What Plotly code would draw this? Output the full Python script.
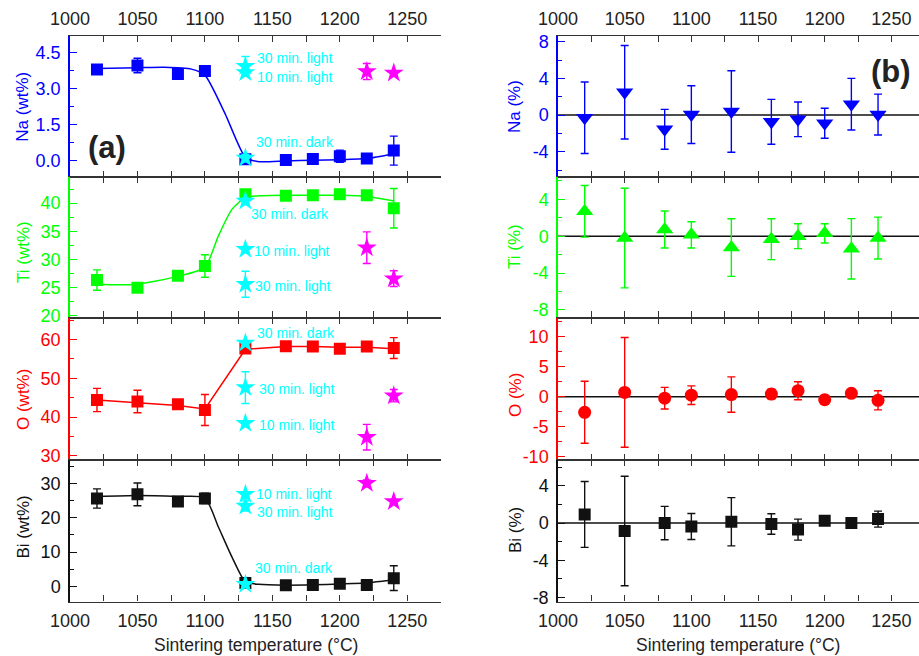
import plotly.graph_objects as go

W, H = 919, 656
FONT = "Liberation Sans, Arial, sans-serif"
INK = "#222222"
FRAME = "#333333"
BLUE, GREEN, RED, BLACK = "#0000ff", "#00ff00", "#ff0000", "#111111"
CYAN, MAGENTA = "#00ffff", "#ff00ff"

# ---------------- data ----------------
temps = [1020, 1050, 1080, 1100, 1130, 1160, 1180, 1200, 1220, 1240]

# composition (wt%) with error bars
na_wt = [3.78, 3.95, 3.60, 3.72, 0.07, 0.04, 0.08, 0.20, 0.10, 0.43]
na_wt_err = [0.10, 0.30, 0.08, 0.08, 0.08, 0.06, 0.06, 0.25, 0.06, 0.60]
ti_wt = [26.35, 25.0, 27.1, 28.85, 41.6, 41.3, 41.4, 41.6, 41.4, 39.1]
ti_wt_err = [1.8, 0.4, 0.4, 2.0, 0.4, 0.4, 0.4, 0.4, 0.4, 3.5]
o_wt = [44.4, 44.0, 43.3, 41.8, 57.7, 58.3, 58.2, 57.6, 58.2, 57.8]
o_wt_err = [3.0, 2.9, 0.8, 4.0, 0.8, 0.8, 0.8, 0.8, 0.8, 2.7]
bi_wt = [25.6, 26.8, 24.7, 25.6, 1.0, 0.3, 0.4, 0.8, 0.4, 2.4]
bi_wt_err = [2.8, 3.3, 0.8, 1.5, 0.8, 0.5, 0.5, 0.5, 0.5, 3.6]

# guide curves through the composition data
na_fit_t = [1020, 1050, 1070, 1090, 1100, 1115, 1130, 1140, 1160, 1180, 1200, 1220, 1240]
na_fit = [3.83, 3.86, 3.88, 3.80, 3.55, 1.95, 0.15, -0.03, 0.00, 0.03, 0.05, 0.10, 0.30]
ti_fit_t = [1020, 1035, 1050, 1080, 1100, 1110, 1120, 1130, 1140, 1160, 1180, 1200, 1220, 1240]
ti_fit = [25.6, 25.5, 25.6, 27.0, 28.6, 34.2, 38.9, 41.0, 41.3, 41.4, 41.4, 41.4, 41.2, 40.4]
o_fit_t = [1020, 1050, 1080, 1100, 1130, 1160, 1180, 1200, 1220, 1240]
o_fit = [44.4, 43.7, 43.0, 42.1, 57.5, 58.2, 58.2, 58.0, 58.0, 57.6]
bi_fit_t = [1020, 1050, 1080, 1100, 1110, 1120, 1130, 1140, 1160, 1180, 1200, 1220, 1240]
bi_fit = [26.2, 26.5, 26.2, 25.8, 17.3, 8.6, 1.3, 0.6, 0.35, 0.45, 0.7, 1.0, 1.9]

# 1130 °C samples under different illumination
cond_t = [1130, 1130, 1130]
cond_names = ["30 min. light", "10 min. light", "30 min. dark"]
na_cond = [3.92, 3.66, 0.12]
na_cond_err = [0.40, 0.10, 0.15]
ti_cond = [25.6, 31.8, 40.4]
ti_cond_err = [2.3, 0.5, 0.5]
o_cond = [47.6, 38.4, 59.1]
o_cond_err = [4.1, 0.6, 0.6]
bi_cond = [23.4, 26.8, 0.6]
bi_cond_err = [1.5, 0.6, 0.6]

# additional samples
extra_t = [1220, 1240]
na_extra = [3.70, 3.64]
na_extra_err = [0.33, 0.08]
ti_extra = [32.1, 26.6]
ti_extra_err = [2.8, 1.4]
o_extra = [34.8, 45.5]
o_extra_err = [3.3, 1.6]
bi_extra = [30.0, 24.7]
bi_extra_err = [1.0, 0.5]

# relative deviation (%)
na_dev = [-0.30, 2.48, -1.56, 0.05, 0.38, -0.74, -0.47, -0.90, 1.18, 0.05]
na_dev_err = [3.90, 5.10, 2.18, 3.15, 4.45, 2.45, 1.89, 1.64, 2.82, 2.23]
ti_dev = [2.70, -0.20, 0.73, 0.15, -1.23, -0.32, 0.00, 0.31, -1.37, -0.20]
ti_dev_err = [2.80, 5.40, 2.00, 1.42, 3.13, 2.22, 1.35, 1.04, 3.28, 2.27]
o_dev = [-2.60, 0.72, -0.25, 0.25, 0.36, 0.44, 1.00, -0.50, 0.56, -0.60]
o_dev_err = [5.17, 9.15, 1.80, 1.55, 2.95, 0.80, 1.50, 0.40, 0.40, 1.60]
bi_dev = [0.93, -0.85, 0.00, -0.36, 0.15, -0.10, -0.70, 0.25, 0.00, 0.43]
bi_dev_err = [3.55, 5.90, 1.80, 1.40, 2.60, 1.10, 1.13, 0.30, 0.30, 0.86]

x_ticks = [1000, 1050, 1100, 1150, 1200, 1250]

# ---------------- layout helpers ----------------
def fx(px):
    return px / W


def fy(py):
    return 1 - py / H


rows_px = [(36, 176.7), (176.7, 317.5), (317.5, 460), (460, 601.5)]
left_px = (70, 441)
right_px = (558, 919)
left_range = [1000, 1275]
right_range = [1000, 1000 + (919 - 558) / 1.3335]
LW = 1.1

left_panels = [
    dict(title="Na (wt%)", color=BLUE, y=na_wt, e=na_wt_err, ft=na_fit_t, f=na_fit,
         c=na_cond, ce=na_cond_err, m=na_extra, me=na_extra_err,
         rng=[-0.65, 5.17], tv=[0, 1.5, 3.0, 4.5], tt=["0.0", "1.5", "3.0", "4.5"], minor=0.75,
         title_y=106.7, spline=True),
    dict(title="Ti (wt%)", color=GREEN, y=ti_wt, e=ti_wt_err, ft=ti_fit_t, f=ti_fit,
         c=ti_cond, ce=ti_cond_err, m=ti_extra, me=ti_extra_err,
         rng=[19.7, 44.7], tv=[20, 25, 30, 35, 40], tt=["20", "25", "30", "35", "40"], minor=2.5,
         title_y=252, spline=True),
    dict(title="O (wt%)", color=RED, y=o_wt, e=o_wt_err, ft=o_fit_t, f=o_fit,
         c=o_cond, ce=o_cond_err, m=o_extra, me=o_extra_err,
         rng=[28.9, 65.7], tv=[30, 40, 50, 60], tt=["30", "40", "50", "60"], minor=5,
         title_y=400, spline=False),
    dict(title="Bi (wt%)", color=BLACK, y=bi_wt, e=bi_wt_err, ft=bi_fit_t, f=bi_fit,
         c=bi_cond, ce=bi_cond_err, m=bi_extra, me=bi_extra_err,
         rng=[-4.4, 36.8], tv=[0, 10, 20, 30], tt=["0", "10", "20", "30"], minor=5,
         title_y=527.5, spline=True),
]

right_panels = [
    dict(title="Na (%)", color=BLUE, y=na_dev, e=na_dev_err, symbol="triangle-down", size=15,
         rng=[-6.73, 8.62], tv=[-4, 0, 4, 8], tt=["-4", "0", "4", "8"], minor=2, title_y=107),
    dict(title="Ti (%)", color=GREEN, y=ti_dev, e=ti_dev_err, symbol="triangle-up", size=15,
         rng=[-8.82, 6.46], tv=[-8, -4, 0, 4], tt=["-8", "-4", "0", "4"], minor=2, title_y=247),
    dict(title="O (%)", color=RED, y=o_dev, e=o_dev_err, symbol="circle", size=13,
         rng=[-10.55, 13.2], tv=[-10, -5, 0, 5, 10], tt=["-10", "-5", "0", "5", "10"], minor=2.5,
         title_y=395),
    dict(title="Bi (%)", color=BLACK, y=bi_dev, e=bi_dev_err, symbol="square", size=12,
         rng=[-8.45, 6.8], tv=[-8, -4, 0, 4], tt=["-8", "-4", "0", "4"], minor=2, title_y=530),
]

fig = go.Figure()
layout = {}
annotations = []
shapes = []


def x_axis(dom_px, rng, row, anchor):
    ax = dict(
        domain=[fx(dom_px[0]), fx(dom_px[1])], range=rng, anchor=anchor, automargin=False,
        showline=True, linecolor=FRAME, linewidth=LW, mirror="ticks",
        ticks="inside", ticklen=6, tickwidth=1.3, tickcolor=FRAME,
        tickmode="array", tickvals=x_ticks, ticktext=[str(v) for v in x_ticks],
        minor=dict(tickmode="array", tickvals=[1025, 1075, 1125, 1175, 1225, 1275],
                   ticks="inside", ticklen=6, tickwidth=1.3, tickcolor=FRAME),
        showgrid=False, zeroline=False,
        tickfont=dict(family=FONT, size=18, color=INK),
        showticklabels=row in (0, 3),
        side="top" if row == 0 else "bottom",
        ticklabelstandoff=3,
    )
    return ax


def y_axis(row, p, anchor, color, side="left", labels=True, overlay=None):
    top, bot = rows_px[row]
    ax = dict(
        domain=[fy(bot), fy(top)], range=p["rng"], anchor=anchor, side=side, automargin=False,
        showline=True, linecolor=color, linewidth=1.5, mirror=False,
        ticks="inside", ticklen=7, tickwidth=1.3, tickcolor=color,
        tickmode="array", tickvals=p["tv"], ticktext=p["tt"],
        minor=dict(dtick=p["minor"], tick0=0, ticks="inside", ticklen=4,
                   tickwidth=1.3, tickcolor=color),
        showgrid=False, zeroline=False, showticklabels=labels,
        tickfont=dict(family=FONT, size=18, color=color),
        ticklabelstandoff=4,
    )
    if overlay:
        ax["overlaying"] = overlay
        ax["linewidth"] = LW + 0.3
    return ax


# ---------------- left column: composition ----------------
for i, p in enumerate(left_panels):
    n = i + 1
    xa, ya = f"x{n}", f"y{n}"
    layout[f"xaxis{n}"] = x_axis(left_px, left_range, i, ya)
    layout[f"yaxis{n}"] = y_axis(i, p, xa, p["color"])
    # grey frame on the right-hand side of each panel
    layout[f"yaxis{n + 8}"] = y_axis(i, p, xa, FRAME, side="right", labels=False, overlay=ya)

    fig.add_trace(go.Scatter(
        x=p["ft"], y=p["f"], mode="lines", xaxis=xa, yaxis=ya,
        line=dict(color=p["color"], width=1.5,
                  shape="spline" if p["spline"] else "linear", smoothing=0.6),
        hoverinfo="skip"))
    fig.add_trace(go.Scatter(
        x=temps, y=p["y"], mode="markers", xaxis=xa, yaxis=ya,
        marker=dict(symbol="square", size=12, color=p["color"]),
        error_y=dict(type="data", array=p["e"], color=p["color"], thickness=1.4, width=4)))
    fig.add_trace(go.Scatter(
        x=extra_t, y=p["m"], mode="markers", xaxis=xa, yaxis=ya,
        marker=dict(symbol="star", size=15, color=MAGENTA),
        error_y=dict(type="data", array=p["me"], color=MAGENTA, thickness=1.4, width=4)))
    fig.add_trace(go.Scatter(
        x=cond_t, y=p["c"], mode="markers", xaxis=xa, yaxis=ya, text=cond_names,
        marker=dict(symbol="star", size=15, color=CYAN),
        error_y=dict(type="data", array=p["ce"], color=CYAN, thickness=1.4, width=4)))

    annotations.append(dict(
        text=p["title"], textangle=-90, x=fx(23), y=fy(p["title_y"]),
        xref="paper", yref="paper", xanchor="center", yanchor="middle", showarrow=False,
        font=dict(family=FONT, size=17, color=p["color"])))

# ---------------- right column: deviation ----------------
for i, p in enumerate(right_panels):
    n = i + 5
    xa, ya = f"x{n}", f"y{n}"
    layout[f"xaxis{n}"] = x_axis(right_px, right_range, i, ya)
    layout[f"yaxis{n}"] = y_axis(i, p, xa, p["color"])

    # zero reference line
    shapes.append(dict(type="line", xref=f"{xa} domain", x0=0, x1=1, yref=ya, y0=0, y1=0,
                       line=dict(color=BLACK, width=1.5), layer="below"))
    fig.add_trace(go.Scatter(
        x=temps, y=p["y"], mode="markers", xaxis=xa, yaxis=ya,
        marker=dict(symbol=p["symbol"], size=p["size"], color=p["color"]),
        error_y=dict(type="data", array=p["e"], color=p["color"], thickness=1.4, width=4)))

    annotations.append(dict(
        text=p["title"], textangle=-90, x=fx(515), y=fy(p["title_y"]),
        xref="paper", yref="paper", xanchor="center", yanchor="middle", showarrow=False,
        font=dict(family=FONT, size=17, color=p["color"])))

# illumination labels next to the 1130 °C samples (left x, centre y in px)
cond_labels = [
    ("30 min. light", 255, 58.3), ("10 min. light", 255, 76.7), ("30 min. dark", 254, 142.3),
    ("30 min. dark", 249, 214.3), ("10 min. light", 252, 251), ("30 min. light", 253, 285.7),
    ("30 min. dark", 255, 333.3), ("30 min. light", 257, 389), ("10 min. light", 257, 425),
    ("10 min. light", 254, 494), ("30 min. light", 255, 512.3), ("30 min. dark", 253, 568.3),
]
for txt, lx, ly in cond_labels:
    annotations.append(dict(
        text=txt, x=fx(lx), y=fy(ly), xref="paper", yref="paper",
        xanchor="left", yanchor="middle", showarrow=False,
        font=dict(family=FONT, size=14, color=CYAN)))

# panel letters and shared x titles
for txt, lx, ly in [("(a)", 107, 147), ("(b)", 891, 72)]:
    annotations.append(dict(
        text=f"<b>{txt}</b>", x=fx(lx), y=fy(ly), xref="paper", yref="paper",
        xanchor="center", yanchor="middle", showarrow=False,
        font=dict(family=FONT, size=31, color=INK)))
for cx in (255.5, 738):
    annotations.append(dict(
        text="Sintering temperature (°C)", x=fx(cx), y=0, xref="paper", yref="paper",
        xanchor="center", yanchor="bottom", showarrow=False, borderpad=0,
        font=dict(family=FONT, size=17.5, color=INK)))

fig.update_layout(
    template="none",
    width=W, height=H, margin=dict(l=0, r=0, t=0, b=0, pad=0, autoexpand=False),
    paper_bgcolor="white", plot_bgcolor="white",
    showlegend=False, annotations=annotations, shapes=shapes,
    font=dict(family=FONT, color=INK),
    **layout,
)

fig.write_html("out.html")
